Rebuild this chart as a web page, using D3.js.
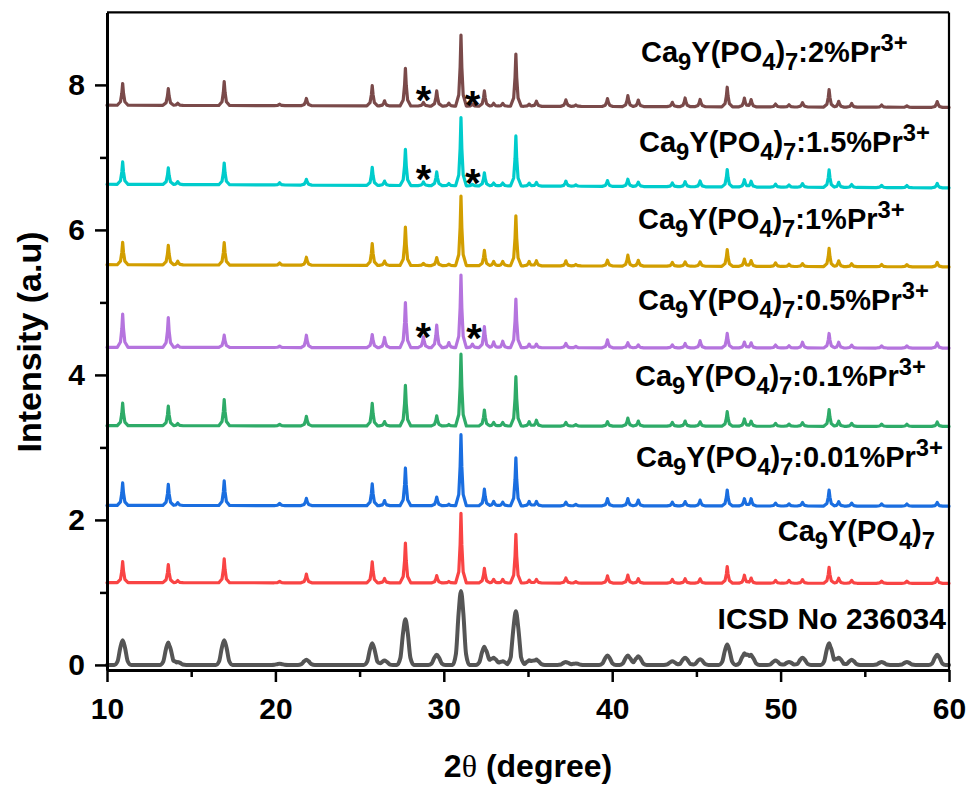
<!DOCTYPE html>
<html><head><meta charset="utf-8">
<script src="https://cdn.jsdelivr.net/npm/d3@7"></script>
<style>body{margin:0;background:#fff}svg{display:block}</style>
</head><body>
<svg id="chart" width="968" height="787"></svg>
<script>
// ---------------- DATA ----------------
const peakPositions = [10.93,13.64,14.2,16.96,20.25,21.84,25.75,26.48,27.72,28.79,29.58,30.3,31.02,31.7,32.41,32.96,33.5,34.28,35.07,35.5,37.25,37.84,39.72,40.93,41.55,43.57,44.33,45.22,46.83,47.85,48.25,49.7,50.5,51.3,52.88,53.45,54.22,56.0,57.5,59.3];

const seriesKeys = ["ICSD","pure","p001","p01","p05","p1","p15","p2"];
const seriesDopant = [null, null, "0.01%", "0.1%", "0.5%", "1%", "1.5%", "2%"];
const baselineLeft  = [0.0, 1.135, 2.20, 3.30, 4.38, 5.52, 6.63, 7.72];
const baselineRight = [0.0, 1.125, 2.19, 3.29, 4.37, 5.49, 6.58, 7.69];

const heightsICSD = [0.34,0.31,0.04,0.34,0.015,0.07,0.30,0.06,0.63,0,0.14,0,1.02,0,0.25,0.10,0.05,0.74,0.06,0.07,0.04,0.02,0.13,0.13,0.12,0.05,0.10,0.08,0.28,0.15,0.13,0.06,0.04,0.10,0.30,0.10,0.07,0.04,0.04,0.14];
const heightsPure = [0.29,0.25,0.03,0.33,0.02,0.12,0.29,0.06,0.55,0,0.10,0.02,0.96,0,0.20,0.05,0.05,0.67,0.04,0.05,0.07,0.02,0.10,0.11,0.06,0.05,0.06,0.06,0.23,0.11,0.07,0.04,0.04,0.05,0.22,0.07,0.04,0.03,0.03,0.07];
const heights001 = [0.31,0.29,0.04,0.34,0.03,0.10,0.30,0.07,0.52,0,0.12,0.02,0.98,0,0.23,0.06,0.05,0.66,0.06,0.06,0.05,0.02,0.10,0.10,0.08,0.05,0.06,0.08,0.22,0.10,0.10,0.04,0.03,0.05,0.22,0.06,0.04,0.03,0.03,0.05];
const heights01  = [0.31,0.27,0.03,0.36,0.02,0.13,0.31,0.06,0.56,0,0.14,0.02,0.99,0,0.22,0.05,0.05,0.68,0.06,0.08,0.05,0.02,0.06,0.11,0.07,0.05,0.07,0.06,0.20,0.10,0.07,0.04,0.03,0.05,0.23,0.07,0.04,0.03,0.03,0.06];
const heights05  = [0.46,0.41,0.03,0.17,0.02,0.17,0.18,0.14,0.62,0.15,0.31,0.07,1.00,0.05,0.29,0.08,0.09,0.67,0.05,0.05,0.06,0.02,0.11,0.07,0.04,0.04,0.06,0.10,0.20,0.08,0.07,0.04,0.03,0.08,0.20,0.08,0.04,0.03,0.03,0.07];
const heights1   = [0.31,0.27,0.05,0.31,0.03,0.11,0.30,0.06,0.53,0.03,0.11,0.02,0.96,0,0.21,0.06,0.06,0.69,0.06,0.07,0.07,0.02,0.08,0.15,0.08,0.05,0.06,0.06,0.23,0.10,0.08,0.05,0.03,0.04,0.25,0.08,0.04,0.03,0.03,0.06];
const heights15  = [0.31,0.23,0.04,0.30,0.03,0.08,0.25,0.06,0.50,0.05,0.19,0.03,0.94,0.02,0.18,0.04,0.04,0.69,0.04,0.05,0.07,0.02,0.08,0.10,0.06,0.05,0.07,0.08,0.24,0.10,0.08,0.04,0.03,0.05,0.24,0.07,0.04,0.03,0.03,0.06];
const heights2   = [0.30,0.23,0.03,0.33,0.02,0.10,0.28,0.07,0.52,0.05,0.21,0.04,0.98,0.03,0.21,0.04,0.04,0.72,0.03,0.07,0.09,0.02,0.11,0.15,0.09,0.06,0.12,0.10,0.27,0.12,0.10,0.04,0.03,0.06,0.24,0.08,0.05,0.03,0.02,0.08];
const seriesHeights = [heightsICSD, heightsPure, heights001, heights01, heights05, heights1, heights15, heights2];

// impurity markers (*): [series index, 2θ, intensity]
const starSeries = [7, 7, 6, 6, 4, 4];
const starTheta  = [28.79, 31.70, 28.80, 31.72, 28.78, 31.80];
const starValue  = [7.92, 7.85, 6.83, 6.77, 4.65, 4.63];

const xTicks = [10, 20, 30, 40, 50, 60];
const xMinorTicks = [15, 25, 35, 45, 55];
const yTicks = [0, 2, 4, 6, 8];
const yMinorTicks = [1, 3, 5, 7];

// ---------------- STYLE / LAYOUT ----------------
const colors = ["#555555","#f94444","#1a6ee0","#2eab68","#b574de","#d29e00","#00cccc","#7a4a4a"];
const labelLayout = [ // [anchor, px x, px baseline y]
  ["end", 946, 629], ["end", 935, 541], ["start", 636, 467], ["start", 635, 386],
  ["start", 638, 310], ["start", 638, 229], ["start", 639, 152], ["start", 641, 62]
];
const font = "Arial, 'Liberation Sans', sans-serif";

const svg = d3.select("#chart");
const x = d3.scaleLinear().domain([10, 60]).range([107, 949]);
const y = d3.scaleLinear().domain([-0.07, 9]).range([670, 12.4]);

// peak profile shapes (offset in degrees, fraction of height)
const sampleShape = [[-0.32,0],[-0.13,0.16],[-0.05,0.55],[0,1],[0.05,0.55],[0.13,0.16],[0.32,0]];
const refShape = [[-0.5,0],[-0.3,0.15],[-0.14,0.7],[0,1],[0.14,0.7],[0.3,0.15],[0.5,0]];
function prof(shape, dx) {
  if (dx <= shape[0][0] || dx >= shape[shape.length-1][0]) return 0;
  for (let i = 1; i < shape.length; i++) {
    if (dx <= shape[i][0]) {
      const [x0,y0] = shape[i-1], [x1,y1] = shape[i];
      return y0 + (y1-y0)*(dx-x0)/(x1-x0);
    }
  }
  return 0;
}
function buildPoints(si) {
  const shape = si === 0 ? refShape : sampleShape;
  const hs = seriesHeights[si];
  let xs = [10, 60];
  peakPositions.forEach((p, i) => { if (hs[i] > 0) shape.forEach(s => xs.push(p + s[0])); });
  xs = Array.from(new Set(xs.map(v => +v.toFixed(4)))).filter(v => v >= 10 && v <= 60).sort((a,b)=>a-b);
  const bl = baselineLeft[si], br = baselineRight[si];
  return xs.map(xv => {
    let v = bl + (br - bl) * (xv - 10) / 50;
    peakPositions.forEach((p, i) => { if (hs[i] > 0) v += hs[i] * prof(shape, xv - p); });
    return [xv, v];
  });
}

const plot = svg.append("g");
seriesKeys.forEach((k, si) => {
  const line = d3.line().x(d => x(d[0])).y(d => y(d[1]))
    .curve(si === 0 ? d3.curveMonotoneX : d3.curveLinear);
  plot.append("path").datum(buildPoints(si))
    .attr("fill", "none").attr("stroke", colors[si])
    .attr("stroke-width", si === 0 ? 4 : 3.2)
    .attr("stroke-linejoin", "round").attr("stroke-linecap", "round")
    .attr("d", line);
});

// frame top/right
svg.append("line").attr("x1", x(10)).attr("x2", x(60)).attr("y1", y(9)).attr("y2", y(9))
  .attr("stroke", "#000").attr("stroke-width", 2.2);
svg.append("line").attr("x1", x(60)).attr("x2", x(60)).attr("y1", y(9)).attr("y2", y(-0.07))
  .attr("stroke", "#000").attr("stroke-width", 2.2);

// axes
function styleAxis(g) {
  g.select(".domain").attr("stroke-width", 3);
  g.selectAll(".tick line").attr("stroke-width", 2.5);
  g.selectAll("text").attr("font-family", font).attr("font-weight", "bold")
    .attr("font-size", 30).attr("fill", "#000");
}
svg.append("g").attr("transform", `translate(0,${y(-0.07)})`)
  .call(d3.axisBottom(x).tickValues(xMinorTicks).tickSize(7).tickSizeOuter(0).tickFormat(""))
  .call(g => { g.select(".domain").remove(); g.selectAll(".tick line").attr("stroke-width", 2.5); });
svg.append("g").attr("transform", `translate(${x(10)},0)`)
  .call(d3.axisLeft(y).tickValues(yMinorTicks).tickSize(7).tickSizeOuter(0).tickFormat(""))
  .call(g => { g.select(".domain").remove(); g.selectAll(".tick line").attr("stroke-width", 2.5); });
svg.append("g").attr("transform", `translate(0,${y(-0.07)})`)
  .call(d3.axisBottom(x).tickValues(xTicks).tickSize(12).tickSizeOuter(0).tickPadding(16).tickFormat(d3.format("d")))
  .call(styleAxis);
svg.append("g").attr("transform", `translate(${x(10)},0)`)
  .call(d3.axisLeft(y).tickValues(yTicks).tickSize(12).tickSizeOuter(0).tickPadding(10).tickFormat(d3.format("d")))
  .call(styleAxis);

// axis titles
svg.append("text").attr("transform", "translate(41,342) rotate(-90)")
  .attr("text-anchor", "middle").attr("font-family", font).attr("font-weight", "bold")
  .attr("font-size", 34).text("Intensity (a.u)");
const xt = svg.append("text").attr("x", 528).attr("y", 777).attr("text-anchor", "middle")
  .attr("font-family", font).attr("font-weight", "bold").attr("font-size", 32);
xt.append("tspan").text("2");
xt.append("tspan").attr("font-family", "'Liberation Serif', 'Times New Roman', serif").attr("font-weight", "normal").text("θ");
xt.append("tspan").text(" (degree)");

// series labels
function labelParts(si) {
  if (si === 0) return [["ICSD No 236034", ""]];
  const base = [["Ca",""],["9","sub"],["Y(PO",""],["4","sub"],[")",""],["7","sub"]];
  if (seriesDopant[si] === null) return base;
  return base.concat([[":" + seriesDopant[si] + "Pr", ""], ["3+", "sup"]]);
}
seriesKeys.forEach((k, si) => {
  const [anchor, lx, ly] = labelLayout[si];
  const fs = si === 0 ? 30 : 29;
  const t = svg.append("text").attr("x", lx).attr("y", ly).attr("text-anchor", anchor)
    .attr("font-family", font).attr("font-weight", "bold").attr("font-size", fs).attr("fill", "#000");
  let shift = 0;
  labelParts(si).forEach(([txt, kind]) => {
    const target = kind === "sub" ? 8 : kind === "sup" ? -11 : 0;
    const ts = t.append("tspan").attr("dy", target - shift).text(txt);
    if (kind) ts.attr("font-size", fs * 0.82);
    shift = target;
  });
});

// stars
starSeries.forEach((s, i) => {
  svg.append("text").attr("x", x(starTheta[i])).attr("y", y(starValue[i]) + 23)
    .attr("text-anchor", "middle").attr("font-family", font).attr("font-weight", "bold")
    .attr("font-size", 40).attr("fill", "#000").text("*");
});
</script>
</body></html>
